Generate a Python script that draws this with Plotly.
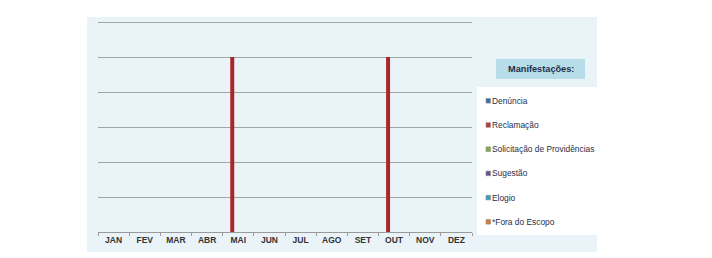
import plotly.graph_objects as go

months = ["JAN", "FEV", "MAR", "ABR", "MAI", "JUN", "JUL", "AGO", "SET", "OUT", "NOV", "DEZ"]
series_names = ["Denúncia", "Reclamação", "Solicitação de Providências", "Sugestão", "Elogio", "*Fora do Escopo"]
denuncia = [0, 0, 0, 0, 0, 0, 0, 0, 0, 0, 0, 0]
reclamacao = [0, 0, 0, 0, 5, 0, 0, 0, 0, 5, 0, 0]
solicitacao = [0, 0, 0, 0, 0, 0, 0, 0, 0, 0, 0, 0]
sugestao = [0, 0, 0, 0, 0, 0, 0, 0, 0, 0, 0, 0]
elogio = [0, 0, 0, 0, 0, 0, 0, 0, 0, 0, 0, 0]
fora_escopo = [0, 0, 0, 0, 0, 0, 0, 0, 0, 0, 0, 0]
colors = ["#4F81BD", "#A8282A", "#9BBB59", "#8064A2", "#4BACC6", "#E07B2C"]
legend_colors = ["#3F6FB0", "#C0393A", "#7FAF40", "#6A4F92", "#3A9EC0", "#E07B2C"]

values = [denuncia, reclamacao, solicitacao, sugestao, elogio, fora_escopo]

FONT = "Liberation Sans, Arial, sans-serif"

fig = go.Figure()
for name, vals, col in zip(series_names, values, colors):
    fig.add_trace(go.Bar(
        x=months, y=vals, name=name, showlegend=False,
        marker=dict(color=col, line=dict(width=0)),
    ))

W, H = 712, 258
L, R, T, B = 98, 472, 17, 232
YMAX = (B - T) / 35.0  # 35 px per unit, top gridline (6) at y=22

def px(x):
    return (x - L) / (R - L)

def py(y):
    return (B - y) / (B - T)

shapes = [
    dict(type="rect", xref="paper", yref="paper",
         x0=px(87), x1=px(597), y0=py(252), y1=py(17),
         fillcolor="#EAF4F8", line=dict(width=0), layer="below"),
    dict(type="rect", xref="paper", yref="paper",
         x0=px(477), x1=px(597), y0=py(235), y1=py(87),
         fillcolor="white", line=dict(width=0), layer="below"),
    dict(type="rect", xref="paper", yref="paper",
         x0=px(496), x1=px(585), y0=py(79), y1=py(59),
         fillcolor="#B7DEE8", line=dict(width=0), layer="below"),
]
annotations = [
    dict(text="<b>Manifestações:</b>", xref="paper", yref="paper",
         x=px(541), y=py(69), xanchor="center", yanchor="middle", showarrow=False,
         font=dict(family=FONT, size=9.2, color="#1F2F4A")),
]

# legend (built from the series names and colours)
row0, step = 100.8, 24.2
for i, (name, col) in enumerate(zip(series_names, legend_colors)):
    yc = row0 + i * step
    shapes.append(dict(type="rect", xref="paper", yref="paper",
                       x0=px(486), x1=px(490.5), y0=py(yc + 2.3), y1=py(yc - 2.3),
                       fillcolor=col, line=dict(width=0.6, color="#8A8A8A")))
    annotations.append(dict(text=name, xref="paper", yref="paper",
                            x=px(489.5), y=py(yc), xanchor="left", yanchor="middle",
                            showarrow=False,
                            font=dict(family=FONT, size=8.4, color="#1F2F4A")))

fig.update_layout(
    width=W, height=H,
    margin=dict(l=L, r=W - R, t=T, b=H - B, autoexpand=False),
    paper_bgcolor="white",
    plot_bgcolor="rgba(0,0,0,0)",
    barmode="group",
    bargap=0.23,
    bargroupgap=0,
    showlegend=False,
    shapes=shapes,
    annotations=annotations,
)

fig.update_xaxes(
    showline=True, linecolor="#9A9A9A", linewidth=1,
    ticks="outside", tickson="boundaries", ticklen=3, tickcolor="#9A9A9A",
    tickfont=dict(family=FONT, size=8.5, color="#333333", weight="bold"),
    showgrid=False,
)
fig.update_yaxes(
    range=[0, YMAX], tickvals=[1, 2, 3, 4, 5, 6], showticklabels=False,
    showgrid=True, gridcolor="#A0A6A6", gridwidth=1,
    zeroline=False, showline=False,
)

fig.write_html("out.html", config={"displayModeBar": False},
               post_script="document.body.style.margin='0';")
